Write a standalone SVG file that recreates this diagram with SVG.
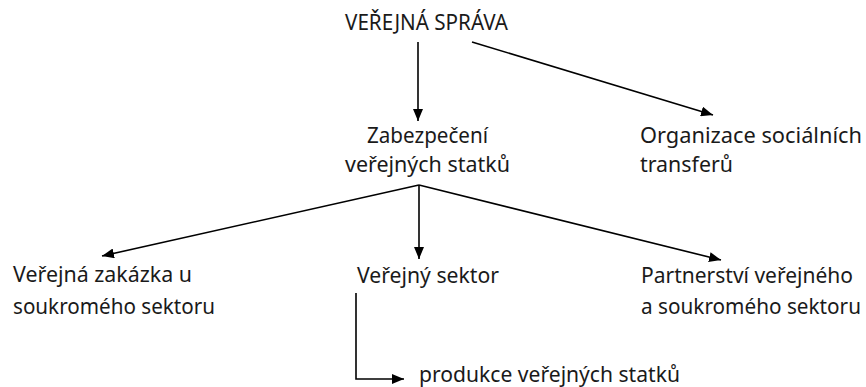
<svg xmlns="http://www.w3.org/2000/svg" width="866" height="387" viewBox="0 0 866 387">
<defs>
<style>
text{font-family:"Noto Sans","Open Sans","Liberation Sans",sans-serif;font-size:21px;fill:#1a1a1a}
.c{stroke:#000;stroke-width:1.6;fill:none}
</style>
<marker id="ah" viewBox="0 0 12 10" refX="12" refY="5" markerWidth="12" markerHeight="10" markerUnits="userSpaceOnUse" orient="auto">
<path d="M0,0 L12,5 L0,10 z" fill="#000"/>
</marker>
</defs>
<rect width="866" height="387" fill="#fff"/>
<g id="connectors">
<line class="c" x1="418" y1="42" x2="418" y2="121" marker-end="url(#ah)"/>
<line class="c" x1="472" y1="42" x2="713" y2="115" marker-end="url(#ah)"/>
<line class="c" x1="419" y1="185" x2="102" y2="256" marker-end="url(#ah)"/>
<line class="c" x1="419" y1="185" x2="419" y2="259" marker-end="url(#ah)"/>
<line class="c" x1="419" y1="185" x2="721" y2="260" marker-end="url(#ah)"/>
<polyline class="c" points="356,293 356,379 404,379" marker-end="url(#ah)"/>
</g>
<g id="n-verejna-sprava"><text x="345" y="30" textLength="163" lengthAdjust="spacingAndGlyphs">VEŘEJNÁ SPRÁVA</text></g>
<g id="n-zabezpeceni"><text x="367" y="143" textLength="121" lengthAdjust="spacingAndGlyphs">Zabezpečení</text><text x="345" y="172" textLength="165" lengthAdjust="spacingAndGlyphs">veřejných statků</text></g>
<g id="n-organizace"><text x="640" y="143" textLength="222" lengthAdjust="spacingAndGlyphs">Organizace sociálních</text><text x="640" y="172" textLength="93" lengthAdjust="spacingAndGlyphs">transferů</text></g>
<g id="n-zakazka"><text x="13" y="282" textLength="179" lengthAdjust="spacingAndGlyphs">Veřejná zakázka u</text><text x="13" y="314" textLength="202" lengthAdjust="spacingAndGlyphs">soukromého sektoru</text></g>
<g id="n-sektor"><text x="357" y="283" textLength="142" lengthAdjust="spacingAndGlyphs">Veřejný sektor</text></g>
<g id="n-partnerstvi"><text x="641" y="283" textLength="212" lengthAdjust="spacingAndGlyphs">Partnerství veřejného</text><text x="641" y="314" textLength="220" lengthAdjust="spacingAndGlyphs">a soukromého sektoru</text></g>
<g id="n-produkce"><text x="419" y="382" textLength="261" lengthAdjust="spacingAndGlyphs">produkce veřejných statků</text></g>
</svg>
